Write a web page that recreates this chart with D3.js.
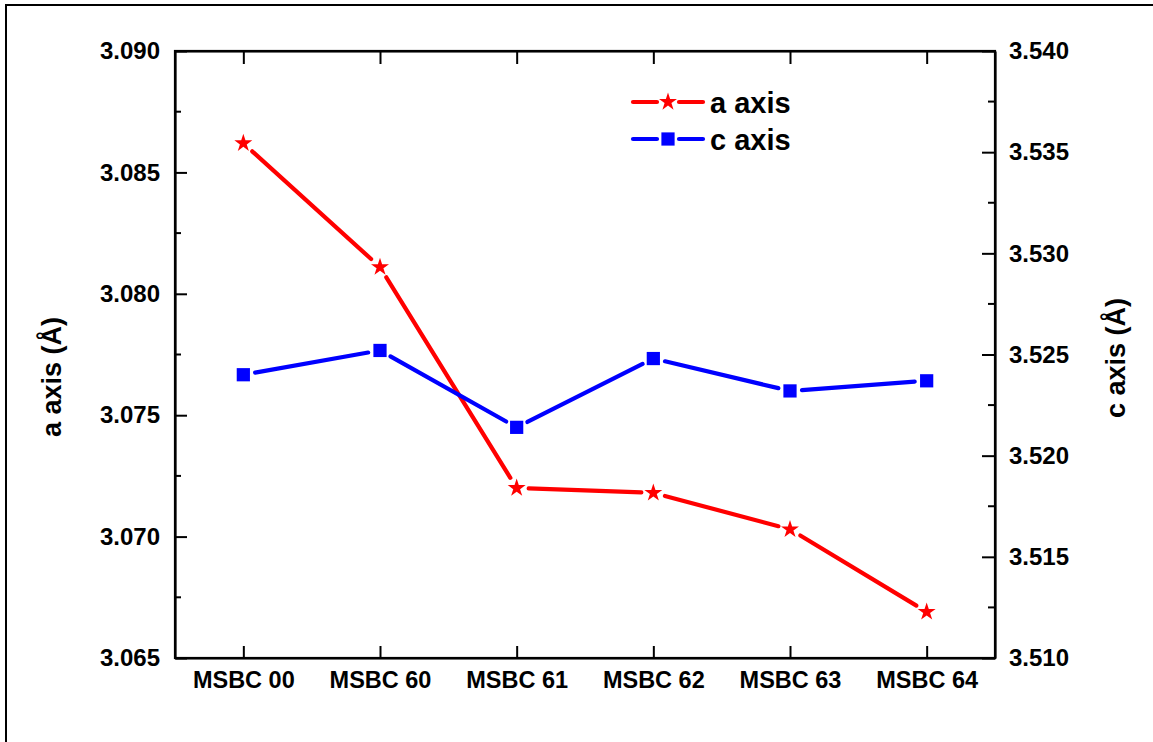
<!DOCTYPE html>
<html>
<head>
<meta charset="utf-8">
<script src="https://cdn.jsdelivr.net/npm/d3@7"></script>
<style>
  html, body { margin: 0; padding: 0; background: #fff; }
  svg { display: block; }
  text { font-family: "Liberation Sans", Arial, sans-serif; font-weight: bold; fill: #000; }
</style>
</head>
<body>
<svg id="chart" width="1153" height="742"></svg>
<script>
// Sample names along the x axis
const samples = ["MSBC 00", "MSBC 60", "MSBC 61", "MSBC 62", "MSBC 63", "MSBC 64"];
// Lattice parameter a (Å), left axis
const aValues = [3.0862, 3.0811, 3.0720, 3.0718, 3.0703, 3.0669];
// Lattice parameter c (Å), right axis
const cValues = [3.5240, 3.5252, 3.5214, 3.5248, 3.5232, 3.5237];
// Axis tick values
const aTicks = [3.065, 3.070, 3.075, 3.080, 3.085, 3.090];
const aMinor = [3.0675, 3.0725, 3.0775, 3.0825, 3.0875];
const cTicks = [3.510, 3.515, 3.520, 3.525, 3.530, 3.535, 3.540];
const cMinor = [3.5125, 3.5175, 3.5225, 3.5275, 3.5325, 3.5375];
// Legend entries
const legendItems = [
  { label: "a axis", color: "#ff0000", symbol: "star" },
  { label: "c axis", color: "#0000ff", symbol: "square" }
];

const svg = d3.select("#chart");
const plot = { left: 175, right: 995, top: 51, bottom: 658 };

// page frame
svg.append("rect")
  .attr("x", 6).attr("y", 5).attr("width", 1170).attr("height", 770)
  .attr("fill", "none").attr("stroke", "#000").attr("stroke-width", 2);

const x = d3.scalePoint().domain(samples).range([plot.left, plot.right]).padding(0.5);
const yA = d3.scaleLinear().domain([3.065, 3.090]).range([plot.bottom, plot.top]);
const yC = d3.scaleLinear().domain([3.510, 3.540]).range([plot.bottom, plot.top]);

const fmt = d3.format(".3f");

// left axis
const leftAxis = svg.append("g").attr("transform", `translate(${plot.left},0)`)
  .call(d3.axisLeft(yA).tickValues(aTicks).tickFormat(fmt).tickSizeInner(-12).tickSizeOuter(0).tickPadding(16));
leftAxis.append("g").selectAll("line").data(aMinor).join("line")
  .attr("x1", 0).attr("x2", 6).attr("y1", d => yA(d)).attr("y2", d => yA(d));
leftAxis.selectAll("text").style("font-size", "24px").attr("x", -15).attr("text-anchor", "end");

// right axis
const rightAxis = svg.append("g").attr("transform", `translate(${plot.right},0)`)
  .call(d3.axisRight(yC).tickValues(cTicks).tickFormat(fmt).tickSizeInner(-13).tickSizeOuter(0).tickPadding(15));
rightAxis.append("g").selectAll("line").data(cMinor).join("line")
  .attr("x1", 0).attr("x2", -7).attr("y1", d => yC(d)).attr("y2", d => yC(d));
rightAxis.selectAll("text").style("font-size", "24px").attr("x", 14).attr("text-anchor", "start");

// bottom axis
const bottomAxis = svg.append("g").attr("transform", `translate(0,${plot.bottom})`)
  .call(d3.axisBottom(x).tickSizeInner(-12).tickSizeOuter(0).tickPadding(14));
bottomAxis.selectAll("text").style("font-size", "23.5px").attr("y", 13);

// top axis (ticks only)
const topAxis = svg.append("g").attr("transform", `translate(0,${plot.top})`)
  .call(d3.axisTop(x).tickSizeInner(-13).tickSizeOuter(0).tickFormat(""));

[leftAxis, rightAxis, bottomAxis, topAxis].forEach(g => {
  g.select(".domain").attr("stroke", "#000").attr("stroke-width", 2.2);
  g.selectAll("line").attr("stroke", "#000").attr("stroke-width", 2);
  g.attr("font-family", null).attr("font-size", null);
});
// close corners cleanly
svg.append("rect")
  .attr("x", plot.left).attr("y", plot.top)
  .attr("width", plot.right - plot.left).attr("height", plot.bottom - plot.top)
  .attr("fill", "none").attr("stroke", "#000").attr("stroke-width", 2.2);

// axis titles
svg.append("text")
  .attr("transform", "translate(52,377) rotate(-90)")
  .attr("text-anchor", "middle").attr("dominant-baseline", "central")
  .style("font-size", "27px").text("a axis (Å)");
svg.append("text")
  .attr("transform", "translate(1116,358) rotate(-90)")
  .attr("text-anchor", "middle").attr("dominant-baseline", "central")
  .style("font-size", "27px").text("c axis (Å)");

const starPath = d3.symbol().type(d3.symbolStar).size(100)();
const squarePath = d3.symbol().type(d3.symbolSquare).size(175)();
const gap = 12;

// connecting segments, broken around each marker
function drawSeries(values, yScale, color, shape) {
  const pts = values.map((v, i) => [x(samples[i]), yScale(v)]);
  const segs = d3.pairs(pts).map(([p, q]) => {
    const dx = q[0] - p[0], dy = q[1] - p[1];
    const L = Math.hypot(dx, dy);
    const ux = dx / L, uy = dy / L;
    return [p[0] + ux * gap, p[1] + uy * gap, q[0] - ux * gap, q[1] - uy * gap];
  });
  const g = svg.append("g");
  g.selectAll("line").data(segs).join("line")
    .attr("x1", d => d[0]).attr("y1", d => d[1])
    .attr("x2", d => d[2]).attr("y2", d => d[3])
    .attr("stroke", color).attr("stroke-width", 4.2).attr("stroke-linecap", "round");
  g.selectAll("path").data(pts).join("path")
    .attr("d", shape === "star" ? starPath : squarePath)
    .attr("transform", d => `translate(${d[0]},${d[1]})`)
    .attr("fill", color);
}
drawSeries(aValues, yA, "#ff0000", "star");
drawSeries(cValues, yC, "#0000ff", "square");

// legend
const legend = svg.append("g").attr("transform", "translate(633,102)");
legendItems.forEach((item, i) => {
  const row = legend.append("g").attr("transform", `translate(0,${i * 37})`);
  row.append("line").attr("x1", 0).attr("x2", 24).attr("y1", 0).attr("y2", 0)
    .attr("stroke", item.color).attr("stroke-width", 4.2).attr("stroke-linecap", "round");
  row.append("line").attr("x1", 46).attr("x2", 70).attr("y1", 0).attr("y2", 0)
    .attr("stroke", item.color).attr("stroke-width", 4.2).attr("stroke-linecap", "round");
  row.append("path")
    .attr("d", item.symbol === "star" ? starPath : squarePath)
    .attr("transform", "translate(35,0)").attr("fill", item.color);
  row.append("text").attr("x", 77).attr("y", 1).attr("dominant-baseline", "central")
    .style("font-size", "29px").text(item.label);
});
</script>
</body>
</html>
